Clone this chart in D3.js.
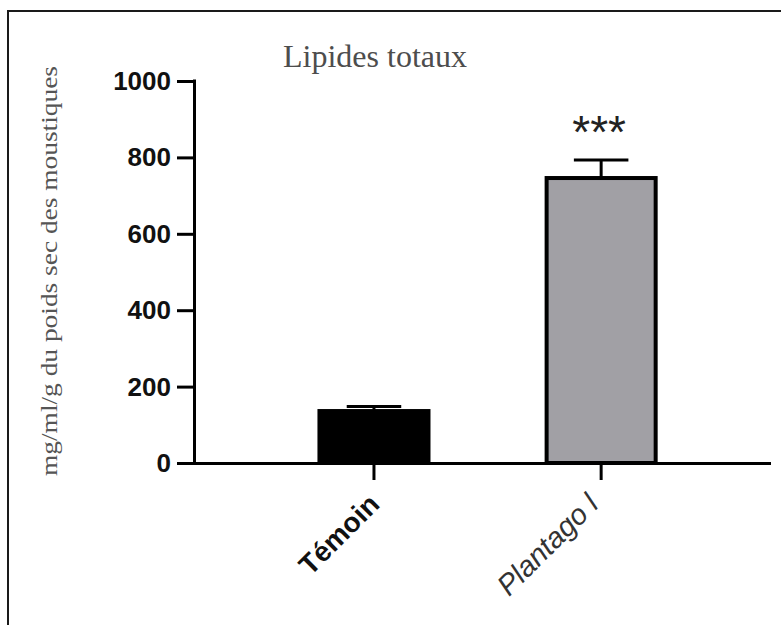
<!DOCTYPE html>
<html>
<head>
<meta charset="utf-8">
<script src="https://cdn.jsdelivr.net/npm/d3@7"></script>
<style>
  html, body { margin: 0; padding: 0; background: #fff; }
  svg { display: block; }
</style>
</head>
<body>
<div id="chart"></div>
<script>
/* Lipides totaux — bar chart with error bars (Témoin vs Plantago l). */
const categories = ["Témoin", "Plantago l"];
const means = [136, 746];
const errors = [12, 47];
const signif = ["", "***"];
const yTicks = [0, 200, 400, 600, 800, 1000];
const barFills = ["#000000", "#a1a0a5"];

const W = 781, H = 625;
const svg = d3.select("#chart").append("svg").attr("width", W).attr("height", H);

// outer frame (only top and left edges are visible in the crop)
svg.append("path")
  .attr("d", `M8,${H} L8,11 L${W},11`)
  .attr("fill", "none").attr("stroke", "#1a1a1a").attr("stroke-width", 2);

const y = d3.scaleLinear().domain([0, 1000]).range([463, 81]);
const x = d3.scaleBand().domain(categories).range([194, 771])
  .paddingInner(0.52).paddingOuter(0.53).align(0.521);

const rows = categories.map((c, i) => ({ cat: c, mean: means[i], err: errors[i], sig: signif[i], fill: barFills[i] }));

// title
svg.append("text")
  .attr("x", 375).attr("y", 67).attr("text-anchor", "middle")
  .style("font-family", "'Liberation Serif', 'Times New Roman', serif")
  .style("font-size", "32px").style("fill", "#4d4d4d")
  .text("Lipides totaux");

// y label
svg.append("text")
  .attr("transform", "translate(57,271) rotate(-90)")
  .attr("text-anchor", "middle")
  .attr("textLength", 410).attr("lengthAdjust", "spacingAndGlyphs")
  .style("font-family", "'Liberation Serif', 'Times New Roman', serif")
  .style("font-size", "23px").style("fill", "#555")
  .text("mg/ml/g du poids sec des moustiques");

// error bars (upper half only)
const eb = svg.append("g").attr("stroke", "#000").attr("stroke-width", 3).attr("fill", "none");
rows.forEach(r => {
  const cx = x(r.cat) + x.bandwidth() / 2;
  eb.append("line").attr("x1", cx).attr("x2", cx).attr("y1", y(r.mean)).attr("y2", y(r.mean + r.err));
  eb.append("line").attr("x1", cx - x.bandwidth() / 4).attr("x2", cx + x.bandwidth() / 4)
    .attr("y1", y(r.mean + r.err)).attr("y2", y(r.mean + r.err));
});

// bars
svg.append("g").selectAll("rect").data(rows).join("rect")
  .attr("x", d => x(d.cat))
  .attr("width", x.bandwidth())
  .attr("y", d => y(d.mean))
  .attr("height", d => y(0) - y(d.mean))
  .attr("fill", d => d.fill)
  .attr("stroke", "#000")
  .attr("stroke-width", 4);

// significance stars
svg.append("g").selectAll("text").data(rows.filter(r => r.sig)).join("text")
  .attr("x", d => x(d.cat) + x.bandwidth() / 2 - 2)
  .attr("y", d => y(d.mean + d.err) - 12)
  .attr("text-anchor", "middle")
  .style("font-family", "'Liberation Sans', Arial, sans-serif")
  .style("font-size", "46px").style("fill", "#222")
  .text(d => d.sig);

// axes
const yAxis = svg.append("g").attr("transform", "translate(194,0)")
  .call(d3.axisLeft(y).tickValues(yTicks).tickFormat(d3.format("d"))
    .tickSize(17).tickSizeOuter(0).tickPadding(6));
const xAxis = svg.append("g").attr("transform", `translate(0,${y(0)})`)
  .call(d3.axisBottom(x).tickSize(17).tickSizeOuter(0).tickFormat(""));

[yAxis, xAxis].forEach(g => {
  g.select(".domain").attr("stroke", "#000").attr("stroke-width", 3);
  g.selectAll(".tick line").attr("stroke", "#000").attr("stroke-width", 3);
});
xAxis.select(".domain").attr("d", `M194,0.5H771`);
yAxis.select(".domain").attr("d", `M0.5,${y(1000) - 1.5}V${y(0) + 1.5}`);

yAxis.selectAll(".tick text")
  .attr("x", -23).attr("dy", "0.33em")
  .style("font-family", "'Liberation Sans', Arial, sans-serif")
  .style("font-size", "26px").style("font-weight", "bold").style("fill", "#111");

// rotated category labels
const labOff = [7, -1];
svg.append("g").selectAll("text").data(rows).join("text")
  .attr("transform", (d, i) => `translate(${x(d.cat) + x.bandwidth() / 2 + labOff[i]},${y(0) + 43}) rotate(-45)`)
  .attr("text-anchor", "end")
  .style("font-family", "'Liberation Sans', Arial, sans-serif")
  .style("font-size", (d, i) => i === 0 ? "28px" : "29px")
  .style("font-weight", (d, i) => i === 0 ? "bold" : "normal")
  .style("font-style", (d, i) => i === 0 ? "normal" : "italic")
  .style("fill", (d, i) => i === 0 ? "#111" : "#333")
  .text(d => d.cat);
</script>
</body>
</html>
